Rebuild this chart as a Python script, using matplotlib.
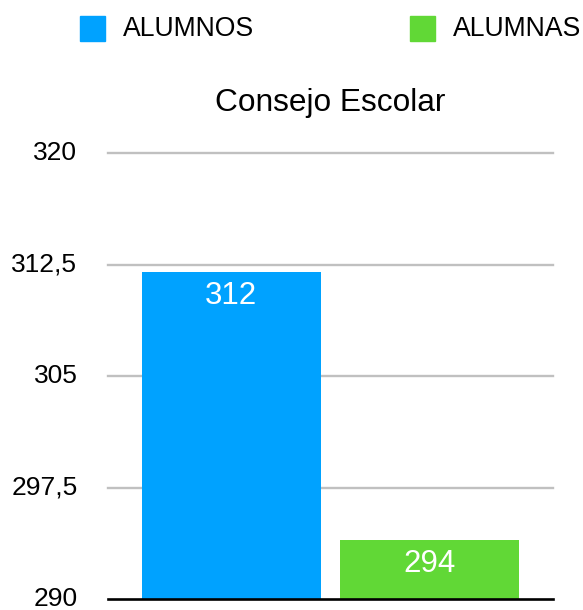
"""Consejo Escolar: alumnos vs alumnas bar chart."""

import matplotlib

matplotlib.use("Agg")
import matplotlib.pyplot as plt  # noqa: E402
from matplotlib.patches import Rectangle  # noqa: E402

plt.rcParams["font.family"] = ["Liberation Sans", "DejaVu Sans"]

# data
categories = ["ALUMNOS", "ALUMNAS"]
values = [312, 294]
colors = ["#00A2FF", "#61D836"]
y_ticks = [290, 297.5, 305, 312.5, 320]
y_tick_labels = ["290", "297,5", "305", "312,5", "320"]
title = "Consejo Escolar"

W, H = 583, 610
fig = plt.figure(figsize=(W / 100, H / 100), dpi=100)
ax = fig.add_axes([108 / W, 1 - 599 / H, 445 / W, 446 / H])

x = list(range(len(categories)))
ax.bar(x, [v - 290 for v in values], bottom=290, width=0.9, color=colors, zorder=3)
ax.set_xlim(-0.62, 1.62)
ax.set_ylim(290, 320)

ax.set_yticks(y_ticks)
ax.set_yticklabels(y_tick_labels, fontsize=19)
ax.tick_params(axis="y", length=0, pad=22)
ax.set_xticks([])
for t in ax.get_yticklabels():
    t.set_verticalalignment("center")

# horizontal gridlines (drawn unclipped so the top one is full width)
for yt in y_ticks[1:]:
    ax.axhline(yt, color="#C0C0C0", linewidth=1.7, zorder=1, clip_on=False)
for side in ("top", "right", "left"):
    ax.spines[side].set_visible(False)
ax.spines["bottom"].set_color("black")
ax.spines["bottom"].set_linewidth(1.9)
ax.spines["bottom"].set_zorder(4)
ax.set_facecolor("white")

for xi, v in zip(x, values):
    ax.annotate(str(v), (xi, v), xytext=(0, -17.3), textcoords="offset points",
                ha="center", va="center", color="white", fontsize=22.5, zorder=5)

fig.text(330.5 / W, 1 - 103 / H, title, ha="center", va="center", fontsize=22.8)

# legend drawn by hand
legend_x = [80, 410]
for lx, lab, col in zip(legend_x, categories, colors):
    fig.add_artist(Rectangle((lx / W, 1 - 41 / H), 25 / W, 25 / H,
                             transform=fig.transFigure, color=col))
    fig.text((lx + 43) / W, 1 - 29 / H, lab, ha="left", va="center", fontsize=19.2)

fig.savefig("out.png", dpi=100)
